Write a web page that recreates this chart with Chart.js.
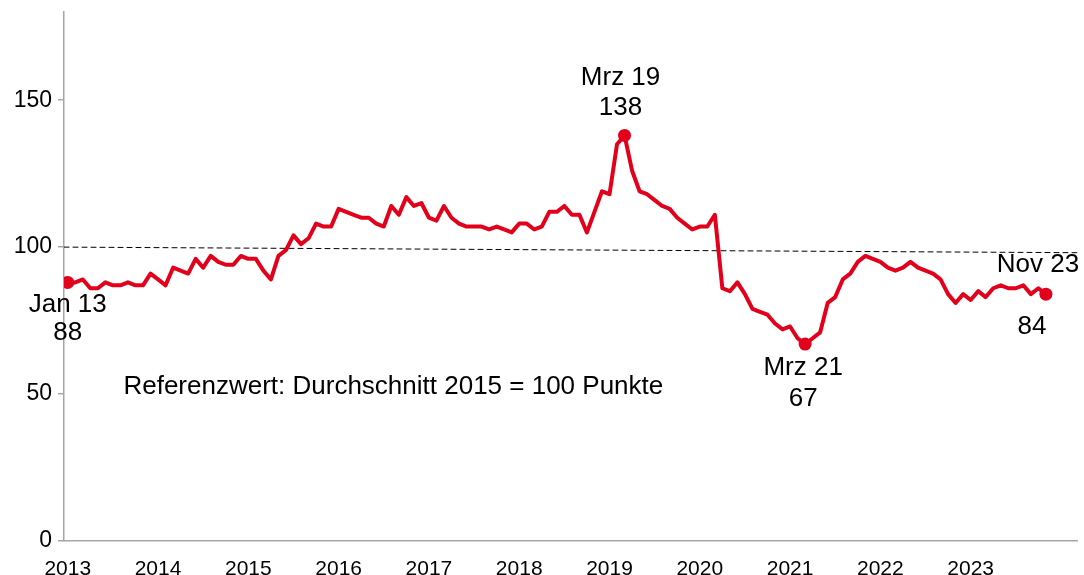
<!DOCTYPE html>
<html>
<head>
<meta charset="utf-8">
<script src="https://cdn.jsdelivr.net/npm/chart.js@4.4.1/dist/chart.umd.min.js"></script>
<style>
  html, body { margin: 0; padding: 0; background: #fff; overflow: hidden; }
  #wrap { width: 1084px; height: 575px; }
</style>
</head>
<body>
<div id="wrap"><canvas id="grafik"></canvas></div>
<script>
// Index-Werte, monatlich Jan 2013 bis Nov 2023 (Durchschnitt 2015 = 100)
const werte = [
  88, 88, 89, 86, 86, 88, 87, 87, 88, 87, 87, 91,          // 2013
  89, 87, 93, 92, 91, 96, 93, 97, 95, 94, 94, 97,          // 2014
  96, 96, 92, 89, 97, 99, 104, 101, 103, 108, 107, 107,    // 2015
  113, 112, 111, 110, 110, 108, 107, 114, 111, 117, 114, 115, // 2016
  110, 109, 114, 110, 108, 107, 107, 107, 106, 107, 106, 105, // 2017
  108, 108, 106, 107, 112, 112, 114, 111, 111, 105, 112, 119, // 2018
  118, 135, 138, 126, 119, 118, 116, 114, 113, 110, 108, 106, // 2019
  107, 107, 111, 86, 85, 88, 84, 79, 78, 77, 74, 72,       // 2020
  73, 69, 67, 69, 71, 81, 83, 89, 91, 95, 97, 96,          // 2021
  95, 93, 92, 93, 95, 93, 92, 91, 89, 84, 81, 84,          // 2022
  82, 85, 83, 86, 87, 86, 86, 87, 84, 86, 84               // 2023
];
const jahre = ["2013", "2014", "2015", "2016", "2017", "2018", "2019", "2020", "2021", "2022", "2023"];
const jahrIndex = [0, 12, 24, 36, 48, 60, 72, 84, 96, 108, 120];
const yTicks = [0, 50, 100, 150];
const referenzLinie = [100, 98.1]; // Anfang / Ende der gestrichelten Linie
const markiert = [0, 74, 98, 130];
const markText = ["Jan 13", "Mrz 19", "Mrz 21", "Nov 23"];
const hinweis = "Referenzwert: Durchschnitt 2015 = 100 Punkte";

const rot = "#e2001a";
const grau = "#a6a6a6";
const schrift = '"Liberation Sans", Arial, sans-serif';

const xMin = -0.5, xMax = 134.2;

// Versatz der Beschriftungen zum Punkt: [textDx, textDy, wertDx, wertDy]
const versatz = [
  [0, 22, 0, 50],
  [-4, -58, -4, -28],
  [-2, 24, -2, 55],
  [-8, -29, -14, 33]
];

const beschriftung = {
  id: "beschriftung",
  afterDatasetsDraw(chart) {
    const { ctx, scales: { x, y } } = chart;
    ctx.save();
    ctx.fillStyle = "#000";
    ctx.font = "26px " + schrift;
    ctx.textAlign = "center";
    ctx.textBaseline = "middle";
    markiert.forEach((idx, k) => {
      const px = x.getPixelForValue(idx);
      const py = y.getPixelForValue(werte[idx]);
      const o = versatz[k];
      ctx.fillText(markText[k], px + o[0], py + o[1]);
      ctx.fillText(String(werte[idx]), px + o[2], py + o[3]);
    });
    ctx.textAlign = "left";
    ctx.fillText(hinweis, x.getPixelForValue(7.4), y.getPixelForValue(52.5));
    ctx.restore();
  }
};

new Chart(document.getElementById("grafik"), {
  type: "line",
  data: {
    datasets: [
      {
        data: [{ x: xMin, y: referenzLinie[0] }, { x: xMax, y: referenzLinie[1] }],
        borderColor: "#000",
        borderWidth: 1,
        borderDash: [5, 4],
        pointRadius: 0,
        order: 2
      },
      {
        data: werte.map((v, i) => ({ x: i, y: v })),
        borderColor: rot,
        borderWidth: 4,
        pointRadius: werte.map((v, i) => markiert.includes(i) ? 6.5 : 0),
        pointBackgroundColor: rot,
        pointBorderWidth: 0,
        tension: 0,
        order: 1
      }
    ]
  },
  options: {
    responsive: true,
    maintainAspectRatio: false,
    animation: false,
    layout: { padding: { left: 0, right: 4, top: 12, bottom: 0 } },
    plugins: { legend: { display: false }, tooltip: { enabled: false } },
    elements: { line: { borderJoinStyle: "round", borderCapStyle: "round" } },
    scales: {
      x: {
        type: "linear",
        min: xMin,
        max: xMax,
        afterBuildTicks: (s) => { s.ticks = jahrIndex.map((v) => ({ value: v })); },
        afterFit: (s) => { s.height = 34; s.paddingLeft = 0; s.paddingRight = 0; },
        ticks: {
          autoSkip: false,
          maxRotation: 0,
          padding: 8,
          color: "#000",
          font: { family: schrift, size: 21 },
          callback: (v) => jahre[jahrIndex.indexOf(v)]
        },
        grid: { display: false },
        border: { display: true, color: grau, width: 1.5 }
      },
      y: {
        min: 0,
        max: 180,
        afterBuildTicks: (s) => { s.ticks = yTicks.map((v) => ({ value: v })); },
        afterFit: (s) => { s.width = 64; s.paddingTop = 0; s.paddingBottom = 0; },
        ticks: {
          padding: 6,
          color: "#000",
          font: { family: schrift, size: 23 }
        },
        grid: { drawOnChartArea: false, color: grau, tickLength: 6, lineWidth: 1.5 },
        border: { display: true, color: grau, width: 1.5 }
      }
    }
  },
  plugins: [beschriftung]
});
</script>
</body>
</html>
